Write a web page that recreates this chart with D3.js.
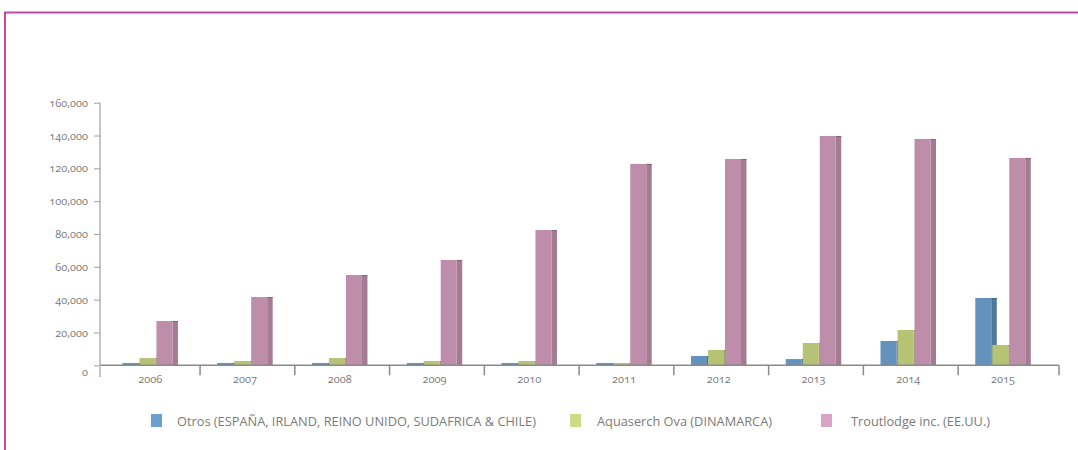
<!DOCTYPE html>
<html><head><meta charset="utf-8">
<script src="https://cdn.jsdelivr.net/npm/d3@7"></script>
<style>
body{margin:0;background:#fff;}
svg text{font-family:"Open Sans",sans-serif;fill:#7a7a7a;font-variant-numeric:oldstyle-nums;}
</style></head>
<body><svg id="c" width="1078" height="450"></svg>
<script>
const years = ["2006","2007","2008","2009","2010","2011","2012","2013","2014","2015"];
const seriesNames = ["Otros (ESPAÑA, IRLAND, REINO UNIDO, SUDAFRICA & CHILE)","Aquaserch Ova (DINAMARCA)","Troutlodge inc. (EE.UU.)"];
const otros = [1400,1400,1400,1400,1400,1400,5700,3800,14800,41000];
const aquaserch = [4400,2600,4400,2600,2600,1400,9300,13600,21500,12400];
const troutlodge = [27000,41600,55000,64200,82400,122700,125700,139700,137900,126300];
const yTicks = [0,20000,40000,60000,80000,100000,120000,140000,160000];
const faceColors = ["#6392bc","#b6c375","#be8daa"];
const sideColors = ["#4e7798","#99a662","#a47b93"];
const legendColors = ["#6a9fd0","#cfdc86","#d9a3c3"];

const svg = d3.select("#c");
// frame
svg.append("line").attr("x1",4).attr("x2",1078).attr("y1",12.5).attr("y2",12.5).attr("stroke","#c04aa4").attr("stroke-width",2);
svg.append("line").attr("x1",5).attr("x2",5).attr("y1",12).attr("y2",450).attr("stroke","#c04aa4").attr("stroke-width",2);

const x = d3.scaleBand().domain(years).range([102.8,1050.4]).padding(0);
const y = d3.scaleLinear().domain([0,160000]).range([365.3,102.7]);

// y axis
const ya = svg.append("g").attr("transform","translate(100,0)")
  .call(d3.axisLeft(y).tickValues(yTicks).tickFormat(d3.format(",")).tickSize(6).tickPadding(6));
ya.select(".domain").attr("stroke","#c4c4c4").attr("stroke-width",2).attr("d","M0,102.7V377");
ya.selectAll(".tick line").attr("stroke","#a0a0a0");
ya.selectAll(".tick text").attr("font-size",11).attr("fill","#7a7a7a").style("font-family","'Open Sans',sans-serif");
ya.selectAll(".tick").filter(d=>d===0).select("text").attr("dy","0.9em");

// bars
const series = [otros, aquaserch, troutlodge];
const faceW = 16, sideW = 5.5, step = 17;
const groupW = 2*step + faceW + sideW;
series.forEach((vals,si)=>{
  const g = svg.append("g");
  years.forEach((yr,i)=>{
    const x0 = x(yr) + x.bandwidth()/2 - groupW/2 + si*step;
    const yt = y(vals[i]);
    const h = y(0) - yt;
    g.append("rect").attr("x",x0+faceW).attr("y",yt).attr("width",sideW).attr("height",h).attr("fill",sideColors[si]);
    g.append("rect").attr("x",x0+faceW).attr("y",yt).attr("width",sideW).attr("height",1).attr("fill",d3.color(sideColors[si]).darker(0.5));
    g.append("rect").attr("x",x0).attr("y",yt).attr("width",faceW).attr("height",h).attr("fill",faceColors[si]);
  });
});

// x axis
const xa = svg.append("g").attr("transform","translate(0,365.3)")
  .call(d3.axisBottom(x).tickSize(0).tickPadding(10));
xa.select(".domain").attr("stroke","#8a8a8a").attr("stroke-width",1.5).attr("d","M100,0H1059");
xa.selectAll(".tick text").attr("font-size",11).attr("fill","#7a7a7a").style("font-family","'Open Sans',sans-serif");
const bounds = [100].concat(years.slice(1).map(d=>x(d)+2.5)).concat([1059]);
xa.selectAll(".bnd").data(bounds).enter().append("line").attr("class","bnd")
  .attr("x1",d=>d).attr("x2",d=>d).attr("y1",0).attr("y2",10)
  .attr("stroke",(d,i)=>i===0?"#c4c4c4":"#8a8a8a").attr("stroke-width",(d,i)=>i===0?2:1.5);

// legend
const legX = [151,570,821];
const textX = [177,597,851];
const textW = [359,175,139];
const lg = svg.append("g");
seriesNames.forEach((n,i)=>{
  lg.append("rect").attr("x",legX[i]).attr("y",414).attr("width",11).attr("height",13).attr("fill",legendColors[i]);
  lg.append("text").attr("x",textX[i]).attr("y",425.5).attr("font-size",13)
    .attr("textLength",textW[i]).attr("lengthAdjust","spacingAndGlyphs").text(n);
});
</script></body></html>
